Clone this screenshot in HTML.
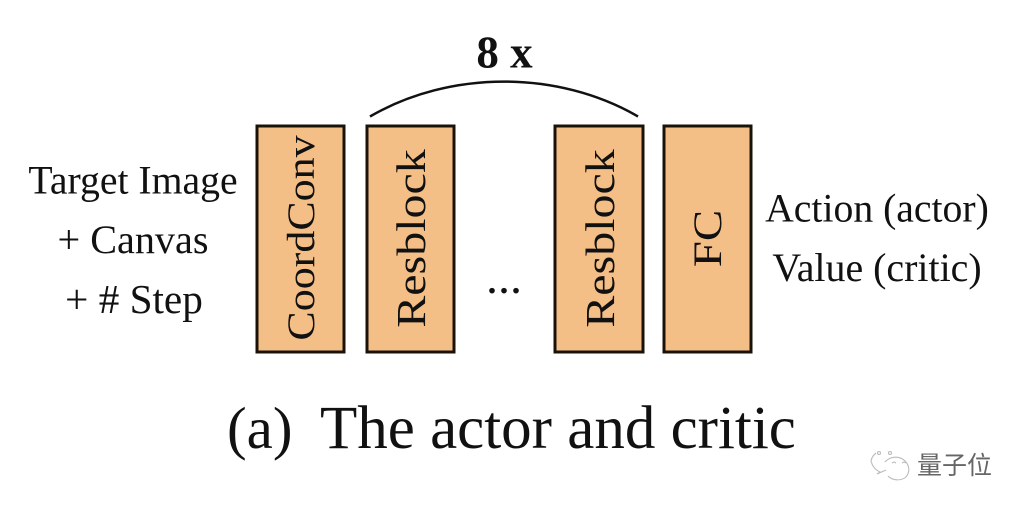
<!DOCTYPE html>
<html><head><meta charset="utf-8"><style>
html,body{margin:0;padding:0;background:#fff}
svg{display:block}
text{font-family:"Liberation Serif",serif;fill:#111}
</style></head><body>
<svg width="1026" height="510" viewBox="0 0 1026 510" xmlns="http://www.w3.org/2000/svg">
<g fill="#f4bf87" stroke="#1a1208" stroke-width="3">
<rect x="257" y="126" width="87" height="226"/>
<rect x="367" y="126" width="87" height="226"/>
<rect x="555" y="126" width="88" height="226"/>
<rect x="664" y="126" width="87" height="226"/>
</g>
<path d="M370 116.500 C450 70 558 70 638 116.500" fill="none" stroke="#111" stroke-width="2.500"/>
<text x="504.500" y="67.500" font-size="45" font-weight="bold" text-anchor="middle">8 x</text>
<g text-anchor="middle">
<text font-size="44" transform="translate(314 238) rotate(-90) scale(1 .9)">CoordConv</text>
<text font-size="48" transform="translate(425 238.500) rotate(-90) scale(1 .85)">Resblock</text>
<text font-size="48" transform="translate(614 238.500) rotate(-90) scale(1 .85)">Resblock</text>
<text font-size="47" transform="translate(721 238.500) rotate(-90) scale(1 .85)">FC</text>
<text font-size="39.700" x="133" y="193.500">Target Image</text>
<text font-size="40.200" x="133" y="253">+ Canvas</text>
<text font-size="41.200" x="134" y="313">+ # Step</text>
<text font-size="39.700" x="877" y="221.500">Action (actor)</text>
<text font-size="39.900" x="877" y="281">Value (critic)</text>
<text font-size="48" x="504" y="293">...</text>
</g>
<text x="227" y="448" font-size="59">(a)</text>
<text x="320" y="448" font-size="61">The actor and critic</text>
<g fill="none" stroke="#bbb" stroke-width="1.100">
<path d="M885 462 A13 12 0 1 1 906 477 A13 12 0 0 1 888 476"/>
<path d="M871 461 Q873 469 880 472 L877 474 L886 470"/>
<path d="M876 453 Q872 456 871 461"/>
<circle cx="879" cy="453" r="1.500"/>
<circle cx="890" cy="453" r="1.500"/>
<path d="M892 463 l2 -1 l2 1 M902 463 l2 -1 l2 1"/>
</g>
<text x="917" y="474" font-size="25" style="font-family:'Liberation Sans','Noto Sans CJK SC',sans-serif;fill:#666">量子位</text>
</svg>
</body></html>
